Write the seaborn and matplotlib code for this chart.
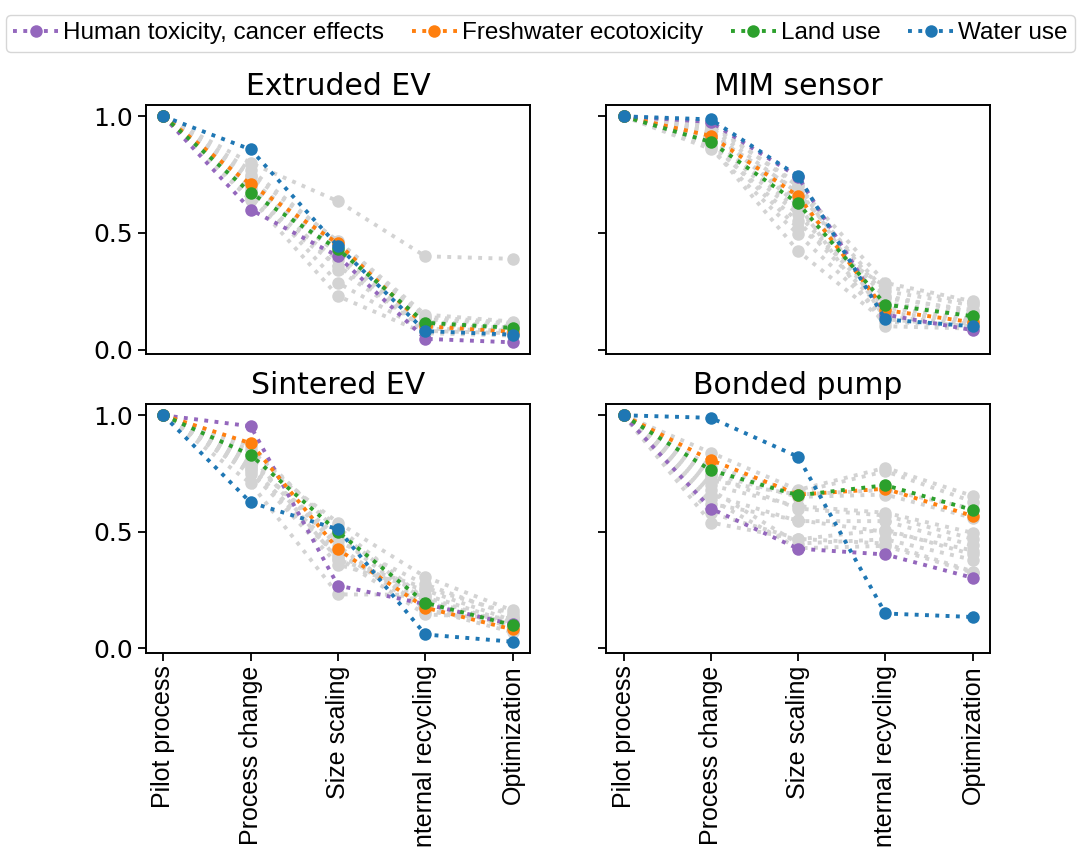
import numpy as np
import pandas as pd
import matplotlib
matplotlib.use("Agg")
import matplotlib.pyplot as plt
from matplotlib.lines import Line2D
import seaborn as sns

steps = ["Pilot process", "Process change", "Size scaling", "Internal recycling", "Optimization"]
panels = ["Extruded EV", "MIM sensor", "Sintered EV", "Bonded pump"]
highlight_names = ["Human toxicity, cancer effects", "Freshwater ecotoxicity", "Land use", "Water use"]
highlight_colors = ["#9467bd", "#ff7f0e", "#2ca02c", "#1f77b4"]
grey_color = "#d3d3d3"

# Highlighted series per panel (normalised to pilot process)
extruded_hl = {
    "Human toxicity, cancer effects": [1.0, 0.60, 0.40, 0.046, 0.031],
    "Freshwater ecotoxicity":         [1.0, 0.708, 0.455, 0.100, 0.076],
    "Land use":                       [1.0, 0.672, 0.430, 0.115, 0.093],
    "Water use":                      [1.0, 0.858, 0.443, 0.079, 0.064],
}
mim_hl = {
    "Human toxicity, cancer effects": [1.0, 0.976, 0.740, 0.150, 0.083],
    "Freshwater ecotoxicity":         [1.0, 0.916, 0.658, 0.169, 0.117],
    "Land use":                       [1.0, 0.890, 0.627, 0.193, 0.143],
    "Water use":                      [1.0, 0.987, 0.744, 0.129, 0.100],
}
sintered_hl = {
    "Human toxicity, cancer effects": [1.0, 0.953, 0.270, 0.190, 0.103],
    "Freshwater ecotoxicity":         [1.0, 0.880, 0.425, 0.175, 0.082],
    "Land use":                       [1.0, 0.830, 0.500, 0.196, 0.100],
    "Water use":                      [1.0, 0.626, 0.511, 0.060, 0.029],
}
bonded_hl = {
    "Human toxicity, cancer effects": [1.0, 0.600, 0.428, 0.403, 0.303],
    "Freshwater ecotoxicity":         [1.0, 0.808, 0.660, 0.685, 0.568],
    "Land use":                       [1.0, 0.764, 0.657, 0.700, 0.594],
    "Water use":                      [1.0, 0.989, 0.822, 0.150, 0.135],
}

# Other impact categories (grey), one row per category
extruded_grey = [
    [1.0, 0.80, 0.636, 0.40, 0.389],
    [1.0, 0.75, 0.465, 0.15, 0.12],
    [1.0, 0.72, 0.45, 0.13, 0.11],
    [1.0, 0.70, 0.44, 0.12, 0.10],
    [1.0, 0.68, 0.42, 0.11, 0.09],
    [1.0, 0.66, 0.385, 0.10, 0.085],
    [1.0, 0.74, 0.343, 0.09, 0.08],
    [1.0, 0.69, 0.286, 0.08, 0.07],
    [1.0, 0.65, 0.229, 0.07, 0.06],
    [1.0, 0.77, 0.46, 0.14, 0.115],
    [1.0, 0.71, 0.41, 0.10, 0.095],
    [1.0, 0.64, 0.36, 0.09, 0.08],
]
mim_grey = [
    [1.0, 0.97, 0.70, 0.286, 0.207],
    [1.0, 0.95, 0.67, 0.25, 0.19],
    [1.0, 0.93, 0.64, 0.22, 0.17],
    [1.0, 0.91, 0.60, 0.20, 0.15],
    [1.0, 0.90, 0.58, 0.18, 0.13],
    [1.0, 0.88, 0.55, 0.16, 0.12],
    [1.0, 0.86, 0.494, 0.14, 0.11],
    [1.0, 0.87, 0.422, 0.12, 0.10],
    [1.0, 0.94, 0.62, 0.10, 0.09],
    [1.0, 0.89, 0.52, 0.27, 0.20],
    [1.0, 0.92, 0.68, 0.23, 0.16],
    [1.0, 0.96, 0.71, 0.13, 0.10],
]
sintered_grey = [
    [1.0, 0.82, 0.54, 0.307, 0.163],
    [1.0, 0.80, 0.46, 0.275, 0.14],
    [1.0, 0.78, 0.39, 0.146, 0.13],
    [1.0, 0.76, 0.36, 0.25, 0.12],
    [1.0, 0.708, 0.232, 0.23, 0.11],
    [1.0, 0.85, 0.52, 0.21, 0.10],
    [1.0, 0.87, 0.50, 0.20, 0.09],
    [1.0, 0.79, 0.48, 0.18, 0.08],
    [1.0, 0.81, 0.44, 0.17, 0.07],
    [1.0, 0.77, 0.42, 0.16, 0.12],
    [1.0, 0.75, 0.40, 0.22, 0.10],
    [1.0, 0.83, 0.38, 0.26, 0.15],
]
bonded_grey = [
    [1.0, 0.84, 0.68, 0.775, 0.654],
    [1.0, 0.72, 0.66, 0.68, 0.60],
    [1.0, 0.70, 0.61, 0.582, 0.496],
    [1.0, 0.66, 0.546, 0.546, 0.442],
    [1.0, 0.54, 0.468, 0.51, 0.403],
    [1.0, 0.68, 0.45, 0.468, 0.38],
    [1.0, 0.64, 0.43, 0.44, 0.325],
    [1.0, 0.75, 0.65, 0.66, 0.56],
    [1.0, 0.78, 0.67, 0.76, 0.63],
    [1.0, 0.62, 0.55, 0.50, 0.42],
    [1.0, 0.58, 0.47, 0.45, 0.33],
    [1.0, 0.74, 0.60, 0.57, 0.47],
]

panel_hl = [extruded_hl, mim_hl, sintered_hl, bonded_hl]
panel_grey = [extruded_grey, mim_grey, sintered_grey, bonded_grey]

LW = 2.8
MS = 9.0

fig, axes = plt.subplots(2, 2, figsize=(10.81, 8.47), dpi=100, sharex=True, sharey=True)
fig.subplots_adjust(left=0.135, right=0.916, top=0.876, bottom=0.229, wspace=0.198, hspace=0.2)

xs = np.arange(len(steps))
for ax, title, hl, greys in zip(axes.flat, panels, panel_hl, panel_grey):
    grey_df = pd.DataFrame(
        [(f"cat{i}", x, v) for i, row in enumerate(greys) for x, v in zip(xs, row)],
        columns=["category", "step", "value"],
    )
    sns.lineplot(data=grey_df, x="step", y="value", units="category", estimator=None,
                 color=grey_color, linestyle=":", marker="o", markersize=MS,
                 markeredgewidth=0, linewidth=LW, ax=ax, legend=False)
    hl_df = pd.DataFrame(
        [(name, x, v) for name in highlight_names for x, v in zip(xs, hl[name])],
        columns=["category", "step", "value"],
    )
    sns.lineplot(data=hl_df, x="step", y="value", hue="category", hue_order=highlight_names,
                 palette=highlight_colors, linestyle=":", marker="o", markersize=MS,
                 markeredgewidth=0, linewidth=LW, ax=ax, legend=False)
    ax.set_title(title, fontsize=21.5, family="DejaVu Sans", pad=7)
    ax.set_xlabel("")
    ax.set_ylabel("")
    ax.set_yticks([0.0, 0.5, 1.0])
    ax.set_xticks(xs)
    for sp in ax.spines.values():
        sp.set_linewidth(1.4)
    ax.tick_params(axis="both", length=5.5, width=1.3, labelsize=18)

for ax in axes[0]:
    ax.tick_params(axis="x", bottom=False)
for ax in axes[1]:
    ax.set_xticklabels(steps, rotation=90, fontsize=18, family="Liberation Sans")
for ax in axes[:, 0]:
    ax.set_yticklabels(["0.0", "0.5", "1.0"], family="DejaVu Sans", fontsize=18)

handles = [Line2D([0], [0], color=c, linestyle=":", marker="o", markersize=MS,
                  markeredgewidth=0, linewidth=LW) for c in highlight_colors]
fig.legend(handles, highlight_names, loc="upper center", bbox_to_anchor=(0.5, 0.988),
           ncol=4, prop={"family": "Liberation Sans", "size": 17.5},
           handlelength=1.85, handletextpad=0.2, columnspacing=1.15, borderaxespad=0.2,
           borderpad=0.3)

fig.savefig("out.png", dpi=100)
